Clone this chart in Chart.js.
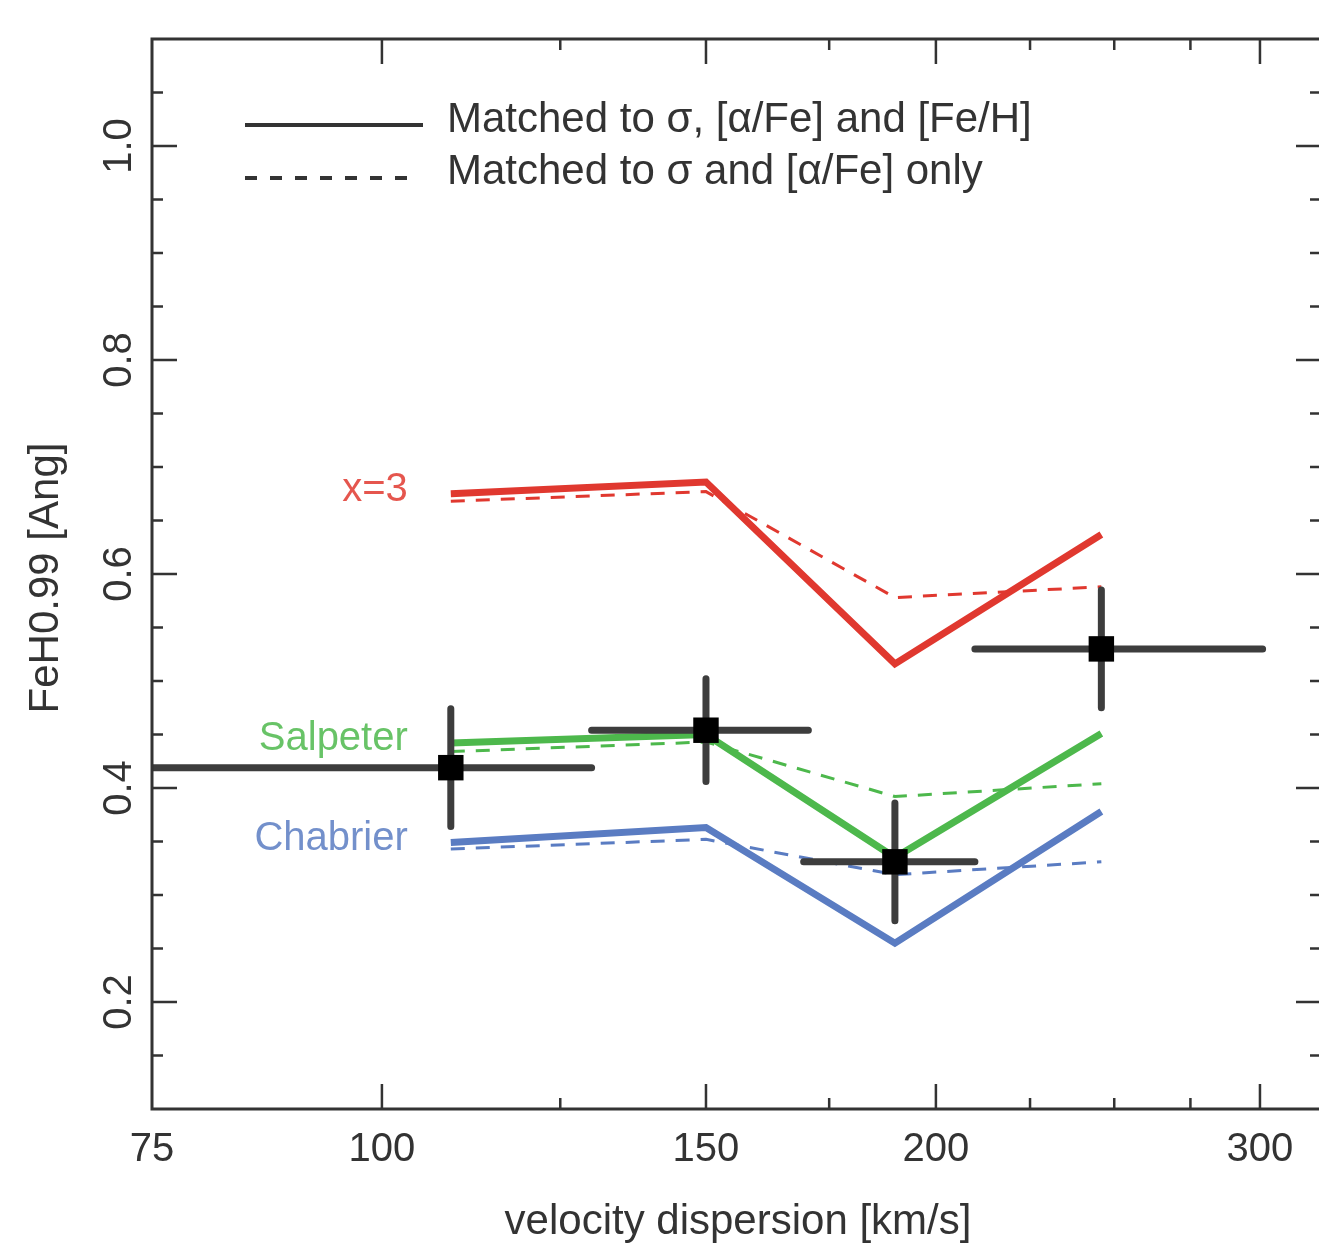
<!DOCTYPE html>
<html>
<head>
<meta charset="utf-8">
<script src="https://cdn.jsdelivr.net/npm/chart.js@4.4.1/dist/chart.umd.min.js"></script>
<style>
  html, body { margin: 0; padding: 0; background: #fff; overflow: hidden; }
  #wrap { width: 1319px; height: 1245px; }
</style>
</head>
<body>
<div id="wrap"><canvas id="chart" width="1319" height="1245"></canvas></div>
<script>
// データ ---------------
// model predictions (x = velocity dispersion, km/s)
const sigmaModel = [109, 150, 190, 246];
const x3Full = [0.675, 0.686, 0.516, 0.637];
const x3Partial = [0.668, 0.677, 0.578, 0.588];
const salpFull = [0.442, 0.450, 0.335, 0.451];
const salpPartial = [0.434, 0.443, 0.392, 0.404];
const chabFull = [0.349, 0.363, 0.255, 0.378];
const chabPartial = [0.343, 0.352, 0.319, 0.331];

// observed points with error bars
const sigmaObs = [109, 150, 190, 246];
const sigmaLow = [75, 130, 169.5, 210];
const sigmaHigh = [130, 170.5, 210, 301];
const fehObs = [0.419, 0.454, 0.331, 0.530];
const fehErr = [0.055, 0.048, 0.055, 0.055];

// axis ticks
const xMajor = [100, 150, 200, 300];
const xMinor = [125, 175, 225, 250, 275];
const xLabels = [75, 100, 150, 200, 300];
const yMajor = [0.2, 0.4, 0.6, 0.8, 1.0];
const yMinor = [0.15, 0.25, 0.3, 0.35, 0.45, 0.5, 0.55, 0.65, 0.7, 0.75, 0.85, 0.9, 0.95, 1.05];

const legendTexts = ["Matched to σ, [α/Fe] and [Fe/H]", "Matched to σ and [α/Fe] only"];
const seriesNames = ["x=3", "Salpeter", "Chabrier"];

const FONT = '"Liberation Sans", Arial, Helvetica, sans-serif';
const INK = "#333333";
const RED = "#e0382f";
const GREEN = "#4db84c";
const BLUE = "#5a7cc2";

const pts = vals => sigmaModel.map((x, i) => ({ x: x, y: vals[i] }));

function modelLine(vals, color, dashed) {
  return {
    data: pts(vals),
    showLine: true,
    pointRadius: 0,
    borderColor: color,
    borderWidth: dashed ? 3 : 7,
    borderDash: dashed ? [14, 11] : [],
    borderJoinStyle: "miter",
    order: dashed ? 1 : 2
  };
}

// エラーバー ---------------
const errorBarPlugin = {
  id: "errorBars",
  beforeDatasetDraw(chart, args) {
    if (chart.data.datasets[args.index].label !== "obs") return;
    const ctx = chart.ctx;
    const xs = chart.scales.x, ys = chart.scales.y;
    const a = chart.chartArea;
    ctx.save();
    ctx.beginPath();
    ctx.rect(a.left, a.top, a.right - a.left, a.bottom - a.top);
    ctx.clip();
    ctx.strokeStyle = "#3d3d3d";
    ctx.lineWidth = 7;
    ctx.lineCap = "round";
    for (let i = 0; i < sigmaObs.length; i++) {
      const px = xs.getPixelForValue(sigmaObs[i]);
      const py = ys.getPixelForValue(fehObs[i]);
      ctx.beginPath();
      ctx.moveTo(xs.getPixelForValue(sigmaLow[i]), py);
      ctx.lineTo(xs.getPixelForValue(sigmaHigh[i]), py);
      ctx.moveTo(px, ys.getPixelForValue(fehObs[i] - fehErr[i]));
      ctx.lineTo(px, ys.getPixelForValue(fehObs[i] + fehErr[i]));
      ctx.stroke();
    }
    ctx.restore();
  }
};

// 枠・目盛り・文字 ---------------
const framePlugin = {
  id: "frame",
  afterDraw(chart) {
    const ctx = chart.ctx;
    const { left, right, top, bottom } = chart.chartArea;
    const xs = chart.scales.x, ys = chart.scales.y;
    ctx.save();
    ctx.strokeStyle = INK;
    ctx.lineWidth = 3;
    // 右端の枠は画像の外（元図で切れている）
    ctx.beginPath();
    ctx.moveTo(right + 10, top);
    ctx.lineTo(left, top);
    ctx.lineTo(left, bottom);
    ctx.lineTo(right + 10, bottom);
    ctx.stroke();

    ctx.lineWidth = 2.5;
    ctx.beginPath();
    const xt = (v, len) => {
      const px = xs.getPixelForValue(v);
      ctx.moveTo(px, bottom); ctx.lineTo(px, bottom - len);
      ctx.moveTo(px, top); ctx.lineTo(px, top + len);
    };
    const yt = (v, len) => {
      const py = ys.getPixelForValue(v);
      ctx.moveTo(left, py); ctx.lineTo(left + len, py);
      ctx.moveTo(right + 2, py); ctx.lineTo(right + 2 - len, py);
    };
    xMajor.forEach(v => xt(v, 25));
    xMinor.forEach(v => xt(v, 11));
    yMajor.forEach(v => yt(v, 25));
    yMinor.forEach(v => yt(v, 11));
    ctx.stroke();

    // tick labels
    ctx.fillStyle = INK;
    ctx.font = "40px " + FONT;
    ctx.textAlign = "center";
    ctx.textBaseline = "alphabetic";
    xLabels.forEach(v => ctx.fillText(String(v), xs.getPixelForValue(v), 1161));
    yMajor.forEach(v => {
      ctx.save();
      ctx.translate(131, ys.getPixelForValue(v));
      ctx.rotate(-Math.PI / 2);
      ctx.fillText(v.toFixed(1), 0, 0);
      ctx.restore();
    });

    // axis titles
    ctx.font = "42px " + FONT;
    ctx.fillText("velocity dispersion [km/s]", 738, 1234);
    ctx.save();
    ctx.translate(58, (top + bottom) / 2 + 4);
    ctx.rotate(-Math.PI / 2);
    ctx.fillText("FeH0.99 [Ang]", 0, 0);
    ctx.restore();

    // legend
    ctx.lineWidth = 4;
    ctx.beginPath();
    ctx.moveTo(245, 125); ctx.lineTo(423, 125);
    ctx.stroke();
    ctx.setLineDash([12, 13]);
    ctx.beginPath();
    ctx.moveTo(245, 178); ctx.lineTo(412, 178);
    ctx.stroke();
    ctx.setLineDash([]);
    ctx.textAlign = "left";
    ctx.fillText(legendTexts[0], 447, 132);
    ctx.fillText(legendTexts[1], 447, 184);

    // series labels
    ctx.font = "40px " + FONT;
    ctx.textAlign = "right";
    ctx.textBaseline = "middle";
    const lx = xs.getPixelForValue(sigmaModel[0]) - 43;
    [[x3Full, RED], [salpFull, GREEN], [chabFull, BLUE]].forEach(([vals, col], i) => {
      ctx.globalAlpha = 0.85;
      ctx.fillStyle = col;
      ctx.fillText(seriesNames[i], lx, ys.getPixelForValue(vals[0]) - 4);
    });
    ctx.restore();
  }
};

new Chart(document.getElementById("chart"), {
  type: "scatter",
  data: {
    datasets: [
      {
        label: "obs",
        data: sigmaObs.map((x, i) => ({ x: x, y: fehObs[i] })),
        pointStyle: "rect",
        pointRadius: 18,
        pointBackgroundColor: "#000",
        pointBorderWidth: 0,
        order: 0
      },
      modelLine(x3Full, RED, false),
      modelLine(x3Partial, RED, true),
      modelLine(salpFull, GREEN, false),
      modelLine(salpPartial, GREEN, true),
      modelLine(chabFull, BLUE, false),
      modelLine(chabPartial, BLUE, true)
    ]
  },
  options: {
    responsive: false,
    animation: false,
    devicePixelRatio: 1,
    layout: { autoPadding: false, padding: { left: 152, right: 0, top: 39, bottom: 136 } },
    scales: {
      x: { type: "logarithmic", min: 75, max: 323, display: false },
      y: { type: "linear", min: 0.1, max: 1.1, display: false }
    },
    plugins: { legend: { display: false }, tooltip: { enabled: false } }
  },
  plugins: [errorBarPlugin, framePlugin]
});
</script>
</body>
</html>
